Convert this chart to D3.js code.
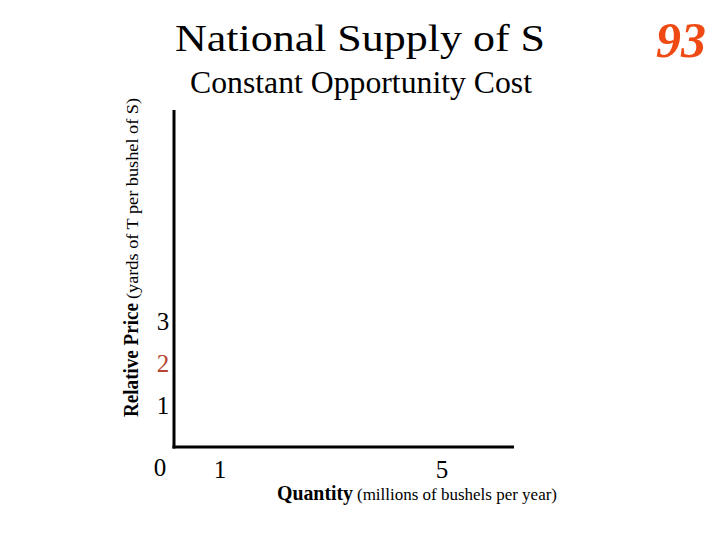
<!DOCTYPE html>
<html><head><meta charset="utf-8">
<script src="https://cdn.jsdelivr.net/npm/d3@7"></script>
<style>body{margin:0;background:#fff}svg{display:block}</style>
</head><body>
<script>
const yTickValues = [1, 2, 3];
const yTickColors = ["#000", "#b5452e", "#000"];
const xTickValues = [1, 5];
const titleText = "National Supply of S";
const subtitleText = "Constant Opportunity Cost";
const pageNumber = "93";

const W = 720, H = 540;
const svg = d3.select("body").append("svg").attr("width", W).attr("height", H);
const serif = "'Liberation Serif','Times New Roman',serif";

const y = d3.scaleLinear().domain([0, 3]).range([447, 321]);
const x = d3.scaleLinear().domain([1, 5]).range([220, 442]);

// axes lines
svg.append("line").attr("x1", 174).attr("x2", 174).attr("y1", 110).attr("y2", y(0)+1.5)
  .attr("stroke", "#000").attr("stroke-width", 3);
svg.append("line").attr("x1", 172.5).attr("x2", 514).attr("y1", y(0)).attr("y2", y(0))
  .attr("stroke", "#000").attr("stroke-width", 3);

// y ticks
svg.selectAll("text.yt").data(yTickValues).enter().append("text")
  .attr("class", "yt").attr("x", 163).attr("y", d => y(d)).attr("dy", "0.35em")
  .attr("text-anchor", "middle").attr("font-family", serif).attr("font-size", 25)
  .attr("fill", (d, i) => yTickColors[i]).text(d => d);
svg.append("text").attr("x", 160).attr("y", 467).attr("dy", "0.35em")
  .attr("text-anchor", "middle").attr("font-family", serif).attr("font-size", 25).text("0");

// x ticks
svg.selectAll("text.xt").data(xTickValues).enter().append("text")
  .attr("class", "xt").attr("x", d => x(d)).attr("y", 469).attr("dy", "0.35em")
  .attr("text-anchor", "middle").attr("font-family", serif).attr("font-size", 25).text(d => d);

// titles
svg.append("text").attr("x", 175).attr("y", 51)
  .attr("textLength", 370).attr("lengthAdjust", "spacingAndGlyphs")
  .attr("font-family", serif).attr("font-size", 38).text(titleText);
svg.append("text").attr("x", 190).attr("y", 93)
  .attr("textLength", 342).attr("lengthAdjust", "spacingAndGlyphs")
  .attr("font-family", serif).attr("font-size", 32).text(subtitleText);
svg.append("text").attr("x", 681).attr("y", 57).attr("text-anchor", "middle")
  .attr("font-family", serif).attr("font-size", 50).attr("font-weight", "bold")
  .attr("font-style", "italic").attr("fill", "#f04a14").text(pageNumber);

// y axis title
const yg = svg.append("g").attr("transform", "translate(138,0) rotate(-90)");
yg.append("text").attr("x", -417).attr("y", 0)
  .attr("textLength", 114).attr("lengthAdjust", "spacingAndGlyphs")
  .attr("font-family", serif).attr("font-size", 21).attr("font-weight", "bold").text("Relative Price");
yg.append("text").attr("x", -299).attr("y", 0)
  .attr("textLength", 201).attr("lengthAdjust", "spacingAndGlyphs")
  .attr("font-family", serif).attr("font-size", 16).text("(yards of T per  bushel of S)");

// x axis title
svg.append("text").attr("x", 277).attr("y", 500)
  .attr("textLength", 76).attr("lengthAdjust", "spacingAndGlyphs")
  .attr("font-family", serif).attr("font-size", 21).attr("font-weight", "bold").text("Quantity");
svg.append("text").attr("x", 357).attr("y", 500)
  .attr("textLength", 200).attr("lengthAdjust", "spacingAndGlyphs")
  .attr("font-family", serif).attr("font-size", 16).text("(millions of bushels per year)");
</script>
</body></html>
